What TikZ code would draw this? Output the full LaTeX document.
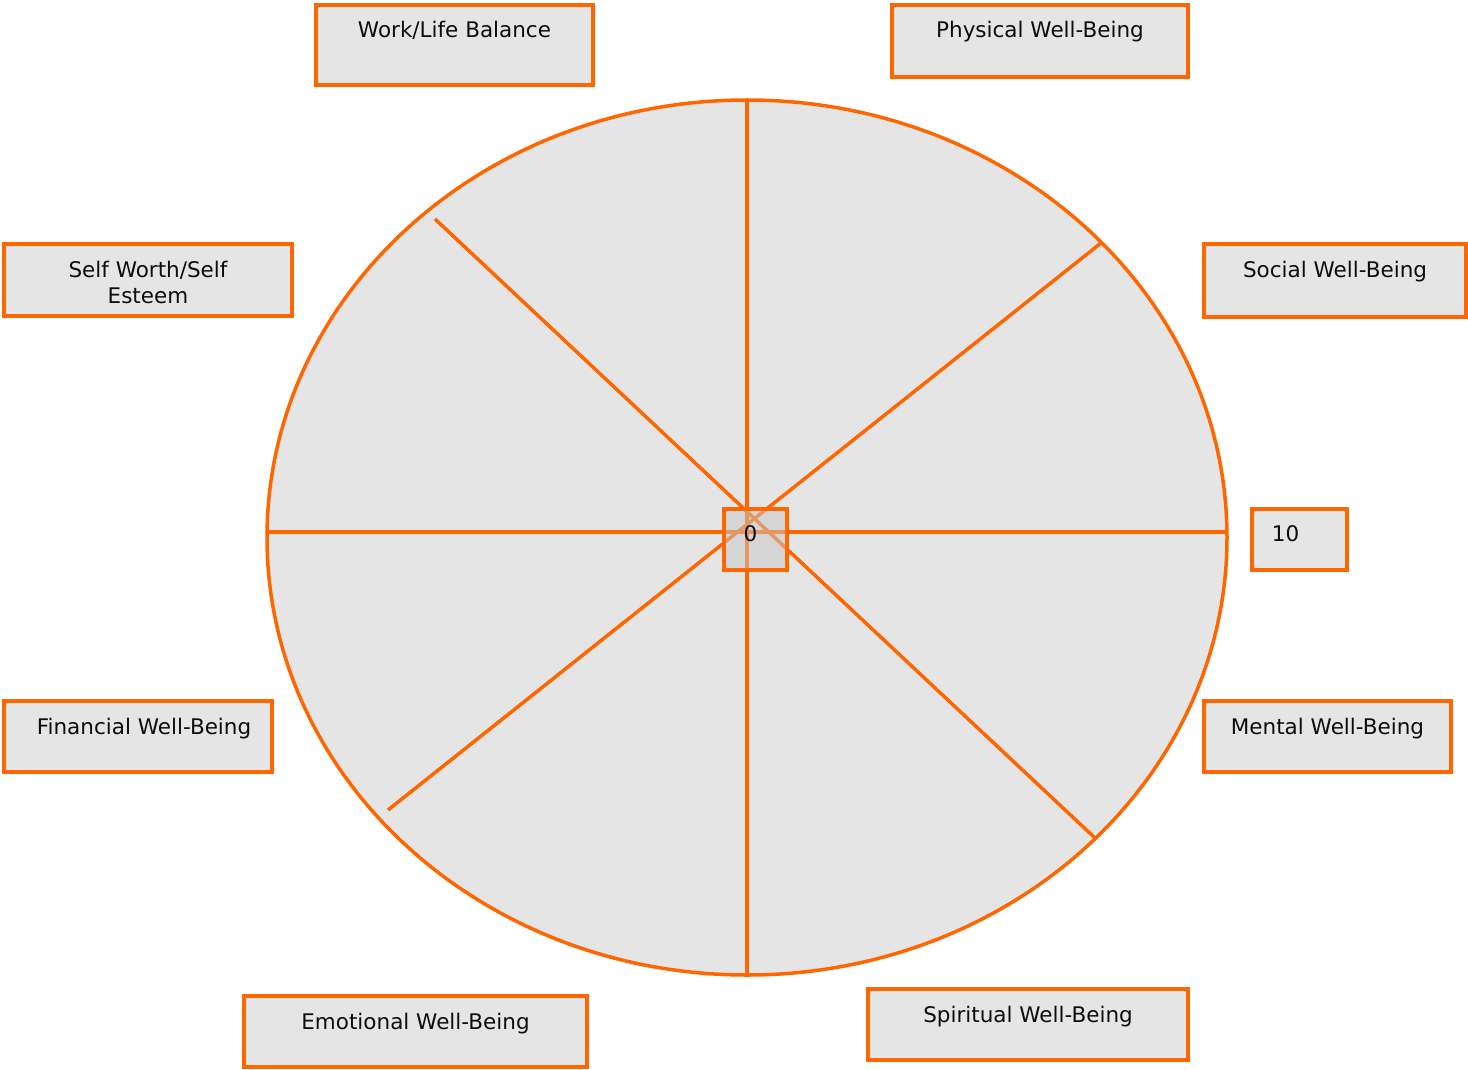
\documentclass[tikz,border=0pt]{standalone}
\usepackage{fontspec}
\setmainfont{DejaVu Sans}
\usetikzlibrary{shapes.geometric}
\definecolor{org}{HTML}{FF6600}
\definecolor{bgr}{HTML}{E5E5E5}
\definecolor{cgr}{HTML}{C8C8C8}
\begin{document}
\begin{tikzpicture}[x=1pt,y=-1pt,
  box/.style={draw=org, line width=4pt, fill=bgr, rectangle, anchor=north west, inner sep=0pt, outer sep=0pt},
  lbl/.style={font=\fontsize{21.5}{26}\selectfont, text=black!95, anchor=base, align=center, inner sep=0pt},
  spoke/.style={draw=org, line width=3.5pt}]
\useasboundingbox (0,0) rectangle (1468,1070);
% wheel
\node[draw=org, line width=3.5pt, fill=bgr, ellipse, minimum width=960pt, minimum height=875pt, inner sep=0pt] (wheel) at (747,537.5) {};
\coordinate (vt) at (747,100);
\coordinate (vb) at (747,975);
\coordinate (hl) at (267,532);
\coordinate (hr) at (1227,532);
\coordinate (d1a) at (435,219);
\coordinate (d1b) at (1095,838);
\coordinate (d2a) at (1101,243);
\coordinate (d2b) at (388,810);
\draw[spoke] (vt) -- (vb);
\draw[spoke] (hl) -- (hr);
\draw[spoke] (d1a) -- (d1b);
\draw[spoke] (d2a) -- (d2b);
% center box
\node[box, fill=cgr, fill opacity=0.5, minimum width=63pt, minimum height=61pt] (c0) at (724,509) {};
\node[lbl] (t0) at ([xshift=-5pt,yshift=-32pt]c0.north) {0};
% boxes
\node[box, minimum width=277pt, minimum height=80pt] (wl) at (316,5) {};
\node[lbl] (twl) at ([yshift=-33pt]wl.north) {Work/Life Balance};
\node[box, minimum width=296pt, minimum height=72pt] (pw) at (892,5) {};
\node[lbl] (tpw) at ([yshift=-33pt]pw.north) {Physical Well-Being};
\node[box, minimum width=288pt, minimum height=72pt] (sw) at (4,244) {};
\node[lbl] (tsw) at ([yshift=-59pt]sw.north) {Self Worth/Self\\Esteem};
\node[box, minimum width=262pt, minimum height=73pt] (so) at (1204,244) {};
\node[lbl] (tso) at ([yshift=-33pt]so.north) {Social Well-Being};
\node[box, minimum width=95pt, minimum height=61pt] (ten) at (1252,509) {};
\node[lbl] (tten) at ([xshift=-14pt,yshift=-32pt]ten.north) {10};
\node[box, minimum width=268pt, minimum height=71pt] (fw) at (4,701) {};
\node[lbl] (tfw) at ([xshift=6pt,yshift=-33pt]fw.north) {Financial Well-Being};
\node[box, minimum width=247pt, minimum height=71pt] (mw) at (1204,701) {};
\node[lbl] (tmw) at ([yshift=-33pt]mw.north) {Mental Well-Being};
\node[box, minimum width=343pt, minimum height=71pt] (ew) at (244,996) {};
\node[lbl] (tew) at ([yshift=-33pt]ew.north) {Emotional Well-Being};
\node[box, minimum width=320pt, minimum height=71pt] (spw) at (868,989) {};
\node[lbl] (tspw) at ([yshift=-33pt]spw.north) {Spiritual Well-Being};
\end{tikzpicture}
\end{document}
